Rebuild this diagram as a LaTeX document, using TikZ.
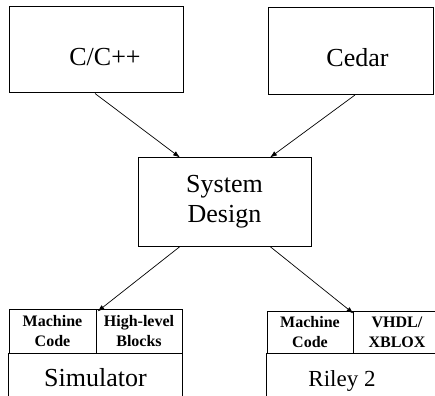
\documentclass[tikz,border=0pt]{standalone}
\usepackage{fontspec}
\setmainfont{Liberation Serif}
\usetikzlibrary{arrows.meta}
\begin{document}
\begin{tikzpicture}[x=1pt,y=-1pt,
  box/.style={draw, line width=1pt, inner sep=0pt},
  cell/.style={draw, line width=1pt, inner sep=0pt, align=center, font=\bfseries\fontsize{16}{20}\selectfont},
  bigtxt/.style={font=\fontsize{26}{30}\selectfont, align=center},
  arr/.style={-{Latex[length=7pt,width=5pt]}, line width=0.7pt}]
\useasboundingbox (0,0) rectangle (435,395);
\clip (0,0) rectangle (435,395);
% top boxes
\node[box, minimum width=174pt, minimum height=86pt,
      label={[bigtxt, shift={(9pt,-7pt)}]center:C/C++}] (cpp) at (96,50) {};
\node[box, minimum width=165pt, minimum height=87pt,
      label={[bigtxt, shift={(7pt,-7pt)}]center:Cedar}] (cedar) at (350.5,51) {};
% system design
\node[box, minimum width=173pt, minimum height=88pt, bigtxt] (sd) at (224.5,202) {System\\Design};
% simulator
\node[cell, minimum width=87pt, minimum height=44pt] (mc) at (52.5,331) {Machine\\Code};
\node[cell, minimum width=86pt, minimum height=44pt] (hl) at (139,331) {High-level\\Blocks};
\node[bigtxt, minimum width=173pt, minimum height=50pt, inner sep=0pt] (sim) at (95.5,378) {Simulator};
\draw[line width=1pt] (sim.north west) -- (sim.south west);
\draw[line width=1pt] (sim.north east) -- (sim.south east);
% riley
\node[cell, minimum width=86pt, minimum height=42pt] (rmc) at (310,332) {Machine\\Code};
\node[cell, minimum width=88pt, minimum height=42pt] (vx) at (397,332) {VHDL/\\XBLOX};
\node[minimum width=174pt, minimum height=50pt, inner sep=0pt,
      label={[font=\fontsize{23}{27}\selectfont, shift={(-12pt,-3pt)}]center:Riley 2}] (riley) at (354,378) {};
\draw[line width=1pt] (riley.north west) -- (riley.south west);
\draw[line width=1pt] (riley.north east) -- (riley.south east);
% arrows
\draw[arr] ([xshift=-1pt]cpp.south) -- ([xshift=-44.5pt]sd.north);
\draw[arr] ([xshift=4.5pt]cedar.south) -- ([xshift=45.5pt]sd.north);
\draw[arr] ([xshift=-44.5pt]sd.south) -- ([xshift=2pt,yshift=-3pt]hl.north west);
\draw[arr] ([xshift=45.5pt]sd.south) -- ([yshift=-3pt]rmc.north east);
\end{tikzpicture}
\end{document}
